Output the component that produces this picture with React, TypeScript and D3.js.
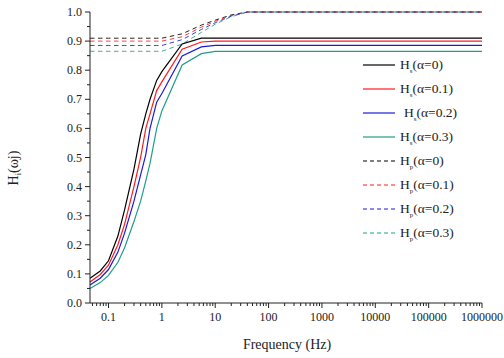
import React from "react";
import * as d3 from "d3";

const freqs = [0.045, 0.07, 0.1, 0.15, 0.2, 0.3, 0.4, 0.5, 0.6, 0.8, 1, 2.4, 5.5, 10, 20, 40, 100, 1000, 10000, 100000, 1000000];

const hs0 = [0.085, 0.11, 0.145, 0.23, 0.32, 0.46, 0.58, 0.65, 0.70, 0.765, 0.795, 0.89, 0.91, 0.91, 0.91, 0.91, 0.91, 0.91, 0.91, 0.91, 0.91];
const hs1 = [0.072, 0.098, 0.13, 0.2, 0.27, 0.4, 0.5, 0.6, 0.65, 0.73, 0.76, 0.872, 0.897, 0.9, 0.9, 0.9, 0.9, 0.9, 0.9, 0.9, 0.9];
const hs2 = [0.062, 0.085, 0.115, 0.175, 0.24, 0.35, 0.44, 0.51, 0.6, 0.69, 0.72, 0.849, 0.88, 0.885, 0.885, 0.885, 0.885, 0.885, 0.885, 0.885, 0.885];
const hs3 = [0.05, 0.07, 0.095, 0.14, 0.19, 0.28, 0.35, 0.42, 0.48, 0.6, 0.66, 0.818, 0.857, 0.865, 0.865, 0.865, 0.865, 0.865, 0.865, 0.865, 0.865];

const hp0 = [0.91, 0.91, 0.91, 0.91, 0.91, 0.91, 0.91, 0.91, 0.91, 0.91, 0.91, 0.925, 0.955, 0.972, 0.99, 1.0, 1.0, 1.0, 1.0, 1.0, 1.0];
const hp1 = [0.9, 0.9, 0.9, 0.9, 0.9, 0.9, 0.9, 0.9, 0.9, 0.9, 0.9, 0.915, 0.948, 0.968, 0.988, 1.0, 1.0, 1.0, 1.0, 1.0, 1.0];
const hp2 = [0.885, 0.885, 0.885, 0.885, 0.885, 0.885, 0.885, 0.885, 0.885, 0.885, 0.885, 0.905, 0.94, 0.963, 0.986, 1.0, 1.0, 1.0, 1.0, 1.0, 1.0];
const hp3 = [0.865, 0.865, 0.865, 0.865, 0.865, 0.865, 0.865, 0.865, 0.865, 0.865, 0.865, 0.89, 0.93, 0.958, 0.984, 1.0, 1.0, 1.0, 1.0, 1.0, 1.0];

const alphas = ["0", "0.1", "0.2", "0.3"];
const colors = ["#000000", "#ff1a1a", "#1a1adb", "#1f9e89"];
const hsSeries = [hs0, hs1, hs2, hs3];
const hpSeries = [hp0, hp1, hp2, hp3];

const xTickValues = [0.1, 1, 10, 100, 1000, 10000, 100000, 1000000];
const xTickLabels = ["0.1", "1", "10", "100", "1000", "10000", "100000", "1000000"];
const yTickValues = [0, 0.1, 0.2, 0.3, 0.4, 0.5, 0.6, 0.7, 0.8, 0.9, 1.0];

const FONT = "Liberation Serif, Times New Roman, Times, serif";

export default function App() {
  const left = 90, right = 482, top = 12, bottom = 303;
  const x = d3.scaleLog().domain([0.045, 1000000]).range([left, right]);
  const y = d3.scaleLinear().domain([0, 1]).range([bottom, top]);

  const line = d3
    .line<[number, number]>()
    .x((d) => x(d[0]))
    .y((d) => y(d[1]));

  const minorX: number[] = [];
  for (let e = -2; e <= 5; e++) {
    for (let m = 2; m <= 9; m++) {
      const v = m * Math.pow(10, e);
      if (v >= 0.045 && v <= 1000000) minorX.push(v);
    }
  }
  const minorY: number[] = [];
  for (let i = 0; i < 10; i++) minorY.push(i * 0.1 + 0.05);

  const legendRows = [
    ...alphas.map((a, i) => ({ sub: "s", a, color: colors[i], dash: false })),
    ...alphas.map((a, i) => ({ sub: "p", a, color: colors[i], dash: true })),
  ];

  return (
    <svg width={504} height={358} style={{ position: "absolute", left: 0, top: 0, background: "#fff" }}>
      <rect x={0} y={0} width={504} height={358} fill="#fff" />
      {hpSeries.map((s, i) => (
        <path
          key={"p" + i}
          d={line(freqs.map((f, j) => [f, s[j]]))!}
          fill="none"
          stroke={colors[i]}
          strokeWidth={1}
          strokeDasharray="4.5,3.5"
          opacity={0.85}
        />
      ))}
      {hsSeries.map((s, i) => (
        <path
          key={"s" + i}
          d={line(freqs.map((f, j) => [f, s[j]]))!}
          fill="none"
          stroke={colors[i]}
          strokeWidth={1.2}
        />
      ))}
      <line x1={left} x2={left} y1={top} y2={bottom} stroke="#222" strokeWidth={1} />
      <line x1={left} x2={right} y1={bottom} y2={bottom} stroke="#222" strokeWidth={1} />
      {yTickValues.map((v) => (
        <g key={"yt" + v}>
          <line x1={left - 5} x2={left} y1={y(v)} y2={y(v)} stroke="#222" />
          <text x={left - 8} y={y(v) + 4} textAnchor="end" fontFamily={FONT} fontSize={12} fill="#222">
            {v.toFixed(1)}
          </text>
        </g>
      ))}
      {minorY.map((v) => (
        <line key={"ym" + v} x1={left - 3} x2={left} y1={y(v)} y2={y(v)} stroke="#222" />
      ))}
      {xTickValues.map((v, i) => (
        <g key={"xt" + v}>
          <line x1={x(v)} x2={x(v)} y1={bottom} y2={bottom + 5} stroke="#222" />
          <text x={x(v)} y={bottom + 18} textAnchor="middle" fontFamily={FONT} fontSize={12} fill="#222">
            {xTickLabels[i]}
          </text>
        </g>
      ))}
      {minorX.map((v) => (
        <line key={"xm" + v} x1={x(v)} x2={x(v)} y1={bottom} y2={bottom + 3} stroke="#222" />
      ))}
      <text x={287} y={349} textAnchor="middle" fontFamily={FONT} fontSize={14} fill="#222">
        Frequency (Hz)
      </text>
      <text
        transform={`translate(18,168) rotate(-90)`}
        textAnchor="middle"
        fontFamily={FONT}
        fontSize={14}
        fill="#222"
      >
        H<tspan fontSize={8} dy={3}>i</tspan>
        <tspan dy={-3}>(ωj)</tspan>
      </text>
      {legendRows.map((r, i) => {
        const ly = 65 + i * 24;
        return (
          <g key={"lg" + i}>
            <line
              x1={363}
              x2={395}
              y1={ly}
              y2={ly}
              stroke={r.color}
              strokeWidth={r.dash ? 1 : 1.2}
              strokeDasharray={r.dash ? "4,3" : undefined}
            />
            <text x={r.a === "0.2" && !r.dash ? 404 : 400} y={ly + 4} fontFamily={FONT} fontSize={13.5} fill="#222">
              H<tspan fontSize={7} dy={4}>{r.sub}</tspan>
              <tspan dy={-4}>(α=</tspan>
              {r.a})
            </text>
          </g>
        );
      })}
    </svg>
  );
}
